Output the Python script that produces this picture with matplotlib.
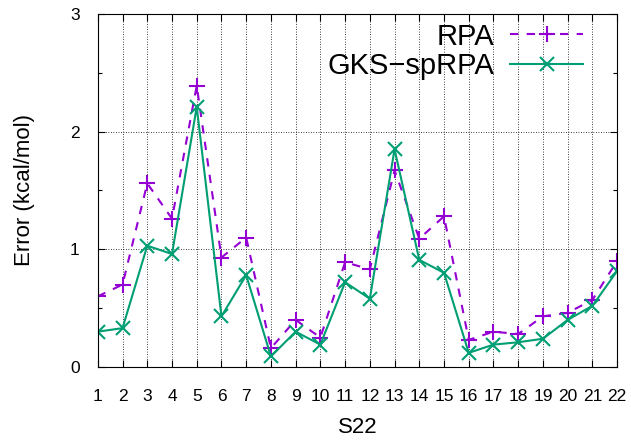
import numpy as np
import matplotlib.pyplot as plt
from matplotlib.ticker import MultipleLocator

plt.rcParams["font.family"] = ["Liberation Sans", "DejaVu Sans"]

sistemas = list(range(1, 23))
rpa = [0.60, 0.70, 1.56, 1.26, 2.39, 0.93, 1.10, 0.16, 0.40, 0.25, 0.89,
       0.83, 1.67, 1.09, 1.28, 0.23, 0.30, 0.28, 0.43, 0.46, 0.57, 0.90]
gks_sprpa = [0.30, 0.33, 1.03, 0.96, 2.21, 0.43, 0.78, 0.09, 0.30, 0.19, 0.72,
             0.58, 1.85, 0.91, 0.80, 0.12, 0.19, 0.21, 0.24, 0.40, 0.52, 0.815]

fig = plt.figure(figsize=(6.31, 4.47), dpi=100)
ax = fig.add_axes([0.155, 0.179, 0.823, 0.790])

ax.plot(sistemas, rpa, color="#9400D3", linestyle=(0, (4, 4)), linewidth=1.5,
        marker="+", markersize=11, markeredgewidth=1.5, label="RPA")
ax.plot(sistemas, gks_sprpa, color="#009E73", linestyle="-", linewidth=1.5,
        marker="x", markersize=10, markeredgewidth=1.5, label="GKS\u2212spRPA")

ax.set_xlim(1, 22)
ax.set_ylim(0, 3)
ax.set_xticks(sistemas)
ax.yaxis.set_major_locator(MultipleLocator(1))
ax.yaxis.set_minor_locator(MultipleLocator(0.5))
ax.tick_params(which="both", direction="in", top=True, right=True, width=0.8)
ax.tick_params(which="major", length=5)
ax.tick_params(which="minor", length=3)
ax.tick_params(axis="x", labelsize=12.5, pad=16)
ax.tick_params(axis="y", labelsize=12.5, pad=13)
ax.grid(True, which="major", color="black", linestyle=(0, (1, 2)), linewidth=0.6)

ax.set_xlabel("S22", fontsize=16, labelpad=9)
ax.set_ylabel("Error (kcal/mol)", fontsize=16, labelpad=25)

ax.legend(loc="upper right", bbox_to_anchor=(0.935, 0.975), markerfirst=False,
          frameon=False, fontsize=21, handlelength=2.5, borderaxespad=0,
          borderpad=0, labelspacing=0.05, handletextpad=0.55)

plt.savefig("out.png", dpi=100)
